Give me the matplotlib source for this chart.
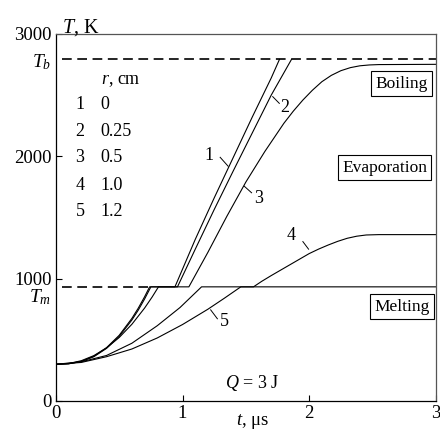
import matplotlib
matplotlib.use("Agg")
import matplotlib.pyplot as plt

plt.rcParams['font.family'] = ['Liberation Serif', 'DejaVu Serif']
plt.rcParams['mathtext.fontset'] = 'custom'
plt.rcParams['mathtext.rm'] = 'Liberation Serif'
plt.rcParams['mathtext.it'] = 'Liberation Serif:italic'
plt.rcParams['lines.scale_dashes'] = False

# ---- data ----
T_melt = 933
T_boil = 2792

t1 = [0, 0.1, 0.2, 0.3, 0.4, 0.5, 0.6, 0.65, 0.7, 0.74, 0.94, 1.1, 1.25, 1.4, 1.55, 1.7, 1.765]
T1 = [300, 304, 324, 366, 436, 537, 675, 758, 851, 933, 933, 1320, 1660, 1990, 2320, 2640, 2792]

t2 = [0, 0.1, 0.2, 0.3, 0.4, 0.5, 0.6, 0.65, 0.7, 0.75, 0.96, 1.1, 1.25, 1.4, 1.55, 1.7, 1.86]
T2 = [300, 304, 322, 362, 430, 528, 662, 742, 833, 933, 933, 1240, 1565, 1880, 2190, 2500, 2792]

t3 = [0, 0.1, 0.2, 0.3, 0.4, 0.5, 0.6, 0.7, 0.76, 0.81, 1.05, 1.2, 1.35, 1.5, 1.65, 1.8,
      1.875, 1.95, 2.025, 2.1, 2.175, 2.25, 2.325, 2.4, 2.475, 2.55, 3.0]
T3 = [300, 306, 329, 371, 434, 519, 627, 759, 850, 933, 933, 1215, 1510, 1790, 2040, 2270,
      2370, 2460, 2540, 2610, 2662, 2700, 2725, 2740, 2747, 2750, 2752]

t4 = [0, 0.2, 0.4, 0.6, 0.8, 0.98, 1.15, 1.56, 1.625, 1.7, 1.775, 1.85, 1.925, 2.0, 2.075,
      2.15, 2.225, 2.3, 2.375, 2.45, 2.55, 3.0]
T4 = [300, 320, 372, 472, 615, 764, 933, 933, 978, 1025, 1070, 1115, 1160, 1205, 1242,
      1275, 1305, 1330, 1347, 1357, 1360, 1360]

t5 = [0, 0.2, 0.4, 0.6, 0.8, 1.0, 1.2, 1.33, 1.46, 3.0]
T5 = [300, 315, 362, 425, 515, 625, 750, 840, 933, 933]

legend_num = ['1', '2', '3', '4', '5']
legend_r = ['0', '0.25', '0.5', '1.0', '1.2']

x_ticks = [0, 1, 2, 3]
y_ticks = [0, 1000, 2000, 3000]

# ---- figure ----
fig = plt.figure(figsize=(4.4, 4.32), dpi=100)
ax = fig.add_axes([0.127, 0.0718, 0.8636, 0.8495])
ax.set_xlim(0, 3)
ax.set_ylim(0, 3000)

lw = 0.8
for t, T in [(t1, T1), (t2, T2), (t3, T3), (t4, T4), (t5, T5)]:
    ax.plot(t, T, color='black', lw=lw, solid_joinstyle='round')

# dashed reference lines
ax.plot([0.05, 3.0], [T_boil, T_boil], color='black', lw=1.2, ls=(0, (7, 4)))
ax.plot([0.05, 0.73], [T_melt, T_melt], color='black', lw=1.2, ls=(0, (7, 4)))

fs = 13
# curve labels with leader lines
labels = [('1', (1.21, 2010), (1.297, 1992), (1.36, 1919)),
          ('2', (1.81, 2400), (1.712, 2488), (1.764, 2433)),
          ('3', (1.60, 1655), (1.487, 1756), (1.545, 1702)),
          ('4', (1.86, 1350), (1.95, 1303), (1.995, 1241)),
          ('5', (1.33, 650), (1.222, 745), (1.275, 672))]
for txt, tp, p0, p1 in labels:
    ax.plot([p0[0], p1[0]], [p0[1], p1[1]], color='black', lw=0.7)
    ax.text(tp[0], tp[1], txt, fontsize=fs, ha='center', va='center')

box = dict(boxstyle='square,pad=0.25', fc='white', ec='black', lw=0.8)
ax.text(2.73, 2593, 'Boiling', fontsize=12.5, ha='center', va='center', bbox=box)
ax.text(2.595, 1908, 'Evaporation', fontsize=12.5, ha='center', va='center', bbox=box)
ax.text(2.73, 772, 'Melting', fontsize=12.5, ha='center', va='center', bbox=box)

ax.text(1.55, 146, '$Q$ = 3 J', fontsize=fs, ha='center', va='center')

# legend table
ax.text(0.36, 2618, '$r$, cm', fontsize=fs, ha='left', va='center')
ys = [2423, 2203, 1992, 1764, 1545]
for n, r, y in zip(legend_num, legend_r, ys):
    ax.text(0.19, y, n, fontsize=fs, ha='center', va='center')
    ax.text(0.35, y, r, fontsize=fs, ha='left', va='center')

# axes styling
ax.set_xticks(x_ticks)
ax.set_yticks(y_ticks)
ax.tick_params(direction='in', length=4, width=0.8, labelsize=13.5, pad=3)
for s in ['left', 'bottom']:
    ax.spines[s].set_linewidth(0.9)
for s in ['top', 'right']:
    ax.spines[s].set_linewidth(0.9)
    ax.spines[s].set_color('#555555')

ytr = ax.get_yaxis_transform()
ax.text(-0.012, T_boil - 20, '$T_b$', transform=ytr, fontsize=14, ha='right', va='center')
ax.text(-0.012, T_melt - 85, '$T_m$', transform=ytr, fontsize=14, ha='right', va='center')

ax.text(0.016, 1.005, '$T$, K', transform=ax.transAxes, fontsize=14.5, ha='left', va='baseline')
ax.text(1.55, -0.057, '$t$, μs', transform=ax.get_xaxis_transform(), fontsize=13.5,
        ha='center', va='center')

fig.savefig('out.png', dpi=100)
